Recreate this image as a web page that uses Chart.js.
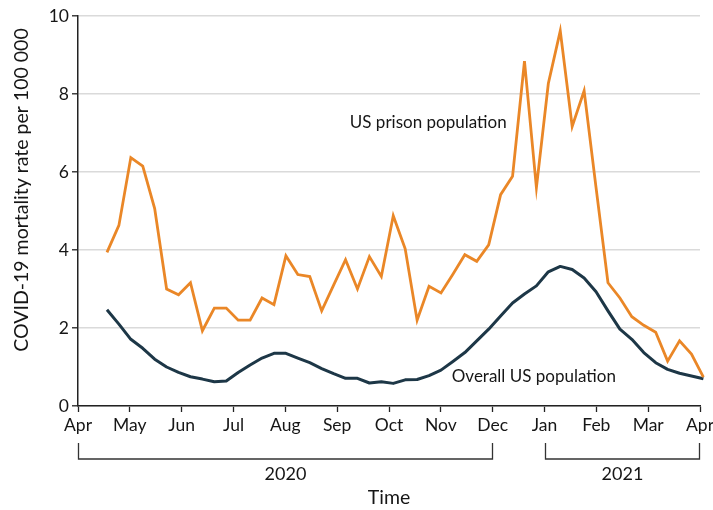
<!DOCTYPE html>
<html>
<head>
<meta charset="utf-8">
<script src="https://cdn.jsdelivr.net/npm/chart.js@4.4.1/dist/chart.umd.min.js"></script>
<style>
  html, body { margin: 0; padding: 0; background: #fff; }
  #c { display: block; }
</style>
</head>
<body>
<canvas id="c" width="713" height="510"></canvas>
<script>
// Weekly reporting dates (week ending)
const weekDates = [
  '2020-04-18','2020-04-25','2020-05-02','2020-05-09','2020-05-16','2020-05-23','2020-05-30',
  '2020-06-06','2020-06-13','2020-06-20','2020-06-27','2020-07-04','2020-07-11','2020-07-18',
  '2020-07-25','2020-08-01','2020-08-08','2020-08-15','2020-08-22','2020-08-29','2020-09-05',
  '2020-09-12','2020-09-19','2020-09-26','2020-10-03','2020-10-10','2020-10-17','2020-10-24',
  '2020-10-31','2020-11-07','2020-11-14','2020-11-21','2020-11-28','2020-12-05','2020-12-12',
  '2020-12-19','2020-12-26','2021-01-02','2021-01-09','2021-01-16','2021-01-23','2021-01-30',
  '2021-02-06','2021-02-13','2021-02-20','2021-02-27','2021-03-06','2021-03-13','2021-03-20',
  '2021-03-27','2021-04-03'
];

// COVID-19 mortality rate per 100 000, US prison population
const prisonRate = [
  3.94, 4.63, 6.37, 6.15, 5.06, 3.00, 2.85, 3.16, 1.93, 2.51, 2.51, 2.20, 2.20, 2.77,
  2.60, 3.85, 3.37, 3.32, 2.44, 3.10, 3.75, 3.00, 3.83, 3.32, 4.88, 4.03, 2.20, 3.07,
  2.90, 3.38, 3.88, 3.71, 4.13, 5.42, 5.89, 8.84, 5.60, 8.27, 9.62, 7.17, 8.08, 5.60,
  3.16, 2.77, 2.29, 2.07, 1.89, 1.15, 1.67, 1.33, 0.74
];

// COVID-19 mortality rate per 100 000, overall US population
const overallRate = [
  2.47, 2.10, 1.71, 1.48, 1.20, 1.00, 0.86, 0.75, 0.69, 0.62, 0.64, 0.86, 1.05, 1.23,
  1.35, 1.35, 1.23, 1.11, 0.96, 0.83, 0.71, 0.71, 0.59, 0.62, 0.58, 0.67, 0.68, 0.78,
  0.92, 1.14, 1.37, 1.67, 1.97, 2.31, 2.64, 2.87, 3.08, 3.44, 3.58, 3.50, 3.28, 2.93,
  2.44, 1.97, 1.71, 1.37, 1.11, 0.94, 0.84, 0.77, 0.70
];

const monthLabels = ['Apr','May','Jun','Jul','Aug','Sep','Oct','Nov','Dec','Jan','Feb','Mar','Apr'];
const yTicks = [0, 2, 4, 6, 8, 10];
const yearGroups = [
  { label: '2020', from: 0, to: 8 },
  { label: '2021', from: 9, to: 12 }
];

const FONT = 'Lato, "Open Sans", sans-serif';
const TEXT = '#161616';
const ORANGE = '#EA8727';
const NAVY = '#1D3747';

// x axis is days since 1 April 2020; month ticks every 365/12 days
const START = Date.UTC(2020, 3, 1);
const YEAR_DAYS = 365;
const monthStep = YEAR_DAYS / 12;
function dayOffset(s) {
  const [y, m, d] = s.split('-').map(Number);
  return (Date.UTC(y, m - 1, d) - START) / 86400000;
}
const xs = weekDates.map(dayOffset);
const prisonPts = xs.map((x, i) => ({ x, y: prisonRate[i] }));
const overallPts = xs.map((x, i) => ({ x, y: overallRate[i] }));

const annotations = {
  id: 'annotations',
  afterDraw(chart) {
    const { ctx, scales: { x, y }, chartArea } = chart;
    ctx.save();
    ctx.fillStyle = TEXT;
    ctx.textAlign = 'center';
    ctx.textBaseline = 'middle';

    // series labels
    ctx.font = '17px ' + FONT;
    ctx.fillText('US prison population', x.getPixelForValue(205.5), y.getPixelForValue(7.26));
    ctx.fillText('Overall US population', x.getPixelForValue(267.5), y.getPixelForValue(0.75));

    // year brackets under the month ticks
    ctx.strokeStyle = '#333';
    ctx.lineWidth = 1.3;
    const top = chartArea.bottom + 37;
    const bot = chartArea.bottom + 53;
    ctx.font = '18px ' + FONT;
    yearGroups.forEach(g => {
      const x0 = Math.round(x.getPixelForValue(g.from * monthStep)) + 0.5;
      const x1 = Math.round(x.getPixelForValue(g.to * monthStep)) - 0.5;
      ctx.beginPath();
      ctx.moveTo(x0, top);
      ctx.lineTo(x0, bot);
      ctx.lineTo(x1, bot);
      ctx.lineTo(x1, top);
      ctx.stroke();
      ctx.fillText(g.label, (x0 + x1) / 2, chartArea.bottom + 68);
    });

    // axis titles
    ctx.font = '19.5px ' + FONT;
    ctx.fillText('Time', (chartArea.left + chartArea.right) / 2, chartArea.bottom + 92);
    ctx.translate(22, 190);
    ctx.rotate(-Math.PI / 2);
    ctx.fillText('COVID-19 mortality rate per 100 000', 0, 0);
    ctx.restore();
  }
};

new Chart(document.getElementById('c'), {
  type: 'line',
  data: {
    datasets: [
      {
        label: 'US prison population',
        data: prisonPts,
        borderColor: ORANGE,
        borderWidth: 2.8,
        pointRadius: 0,
        tension: 0,
        clip: false,
        borderJoinStyle: 'miter'
      },
      {
        label: 'Overall US population',
        data: overallPts,
        borderColor: NAVY,
        borderWidth: 3,
        pointRadius: 0,
        tension: 0,
        clip: false,
        borderJoinStyle: 'round'
      }
    ]
  },
  options: {
    responsive: false,
    animation: false,
    devicePixelRatio: 1,
    layout: { padding: { left: 0, right: 13, top: 16, bottom: 0 } },
    plugins: {
      legend: { display: false },
      tooltip: { enabled: false }
    },
    scales: {
      x: {
        type: 'linear',
        min: 0,
        max: YEAR_DAYS,
        afterBuildTicks(scale) {
          scale.ticks = monthLabels.map((_, i) => ({ value: i * monthStep }));
        },
        afterFit(scale) {
          scale.height = 104;
          scale.paddingLeft = 0;
          scale.paddingRight = 0;
        },
        ticks: {
          autoSkip: false,
          maxRotation: 0,
          padding: 3,
          color: TEXT,
          font: { family: FONT, size: 17.5 },
          callback: (v, i) => monthLabels[i]
        },
        grid: {
          drawOnChartArea: false,
          drawTicks: true,
          tickLength: 6,
          tickColor: '#222',
          tickWidth: 1.3
        },
        border: { color: '#222', width: 1.5 }
      },
      y: {
        min: 0,
        max: 10,
        afterBuildTicks(scale) {
          scale.ticks = yTicks.map(v => ({ value: v }));
        },
        afterFit(scale) {
          scale.width = 78;
          scale.paddingTop = 0;
          scale.paddingBottom = 0;
        },
        ticks: {
          padding: 3,
          color: TEXT,
          font: { family: FONT, size: 17.5 }
        },
        grid: {
          color: '#dadada',
          lineWidth: 1.6,
          tickLength: 6,
          tickColor: '#222',
          tickWidth: 1.3
        },
        border: { color: '#222', width: 1.5 }
      }
    }
  },
  plugins: [annotations]
});
</script>
</body>
</html>
